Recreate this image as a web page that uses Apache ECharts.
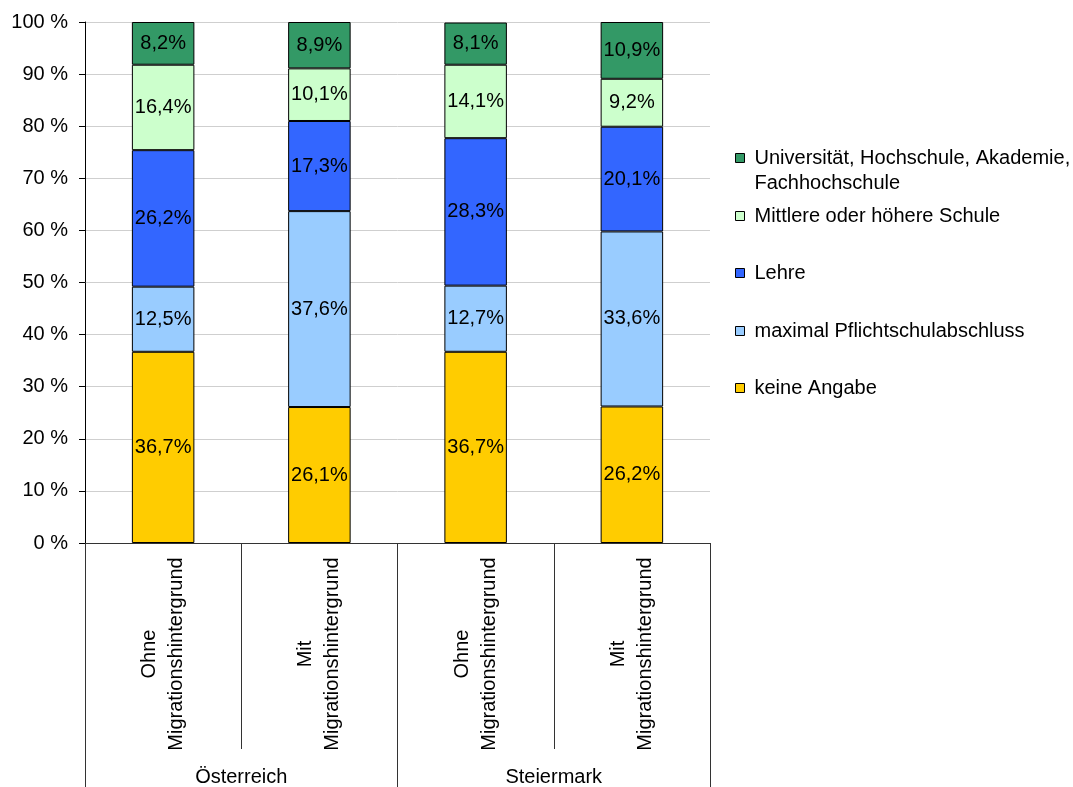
<!DOCTYPE html>
<html>
<head>
<meta charset="utf-8">
<script src="https://cdn.jsdelivr.net/npm/echarts@6/dist/echarts.min.js"></script>
<style>
  html, body { margin: 0; padding: 0; background: #fff; }
  #chart { width: 1073px; height: 787px; }
</style>
</head>
<body>
<div id="chart"></div>
<script>
// Bildungsabschluss nach Migrationshintergrund (Anteile in %)
const categories = [
  'Ohne\nMigrationshintergrund',
  'Mit\nMigrationshintergrund',
  'Ohne\nMigrationshintergrund',
  'Mit\nMigrationshintergrund'
];
const groups = ['Österreich', 'Steiermark'];

const keineAngabe    = [36.7, 26.1, 36.7, 26.2];
const pflichtschule  = [12.5, 37.6, 12.7, 33.6];
const lehre          = [26.2, 17.3, 28.3, 20.1];
const mittlereSchule = [16.4, 10.1, 14.1, 9.2];
const universitaet   = [8.2, 8.9, 8.1, 10.9];

const yTicks = { min: 0, max: 100, interval: 10 };

const FONT = 'Liberation Sans, Arial, sans-serif';
const FS = 20;

const seriesDefs = [
  { name: 'keine Angabe', data: keineAngabe, color: '#FFCC00' },
  { name: 'maximal Pflichtschulabschluss', data: pflichtschule, color: '#99CCFF' },
  { name: 'Lehre', data: lehre, color: '#3366FF' },
  { name: 'Mittlere oder höhere Schule', data: mittlereSchule, color: '#CCFFCC' },
  { name: 'Universität, Hochschule, Akademie, Fachhochschule', data: universitaet, color: '#339966' }
];

const series = seriesDefs.map(s => ({
  name: s.name,
  type: 'bar',
  stack: 'total',
  barWidth: '40%',
  data: s.data,
  itemStyle: { color: s.color, borderColor: '#000', borderWidth: 1 },
  label: {
    show: true,
    position: 'inside',
    color: '#000',
    fontFamily: FONT,
    fontSize: FS,
    formatter: p => p.value.toFixed(1).replace('.', ',') + '%'
  },
  emphasis: { disabled: true }
}));

// legend entries, top to bottom, with the vertical centre of their first text line
const legendRows = [
  { name: seriesDefs[4].name, y: 158, twoLine: true },
  { name: seriesDefs[3].name, y: 216 },
  { name: seriesDefs[2].name, y: 273 },
  { name: seriesDefs[1].name, y: 331 },
  { name: seriesDefs[0].name, y: 388 }
];
const LH = 25;
const textBase = { color: '#000', fontFamily: FONT, fontSize: FS, lineHeight: LH };
const legends = legendRows.map(r => ({
  orient: 'vertical',
  left: 735,
  // the two-line entry gets an empty spacer line above so the marker sits on its first line
  top: r.twoLine ? r.y - LH * 1.5 : r.y - LH / 2,
  padding: 0,
  icon: 'rect',
  itemWidth: 9,
  itemHeight: 9,
  selectedMode: false,
  data: [r.name],
  itemStyle: { borderColor: '#000', borderWidth: 1 },
  formatter: r.twoLine
    ? '{s| }\n{t|Universität, Hochschule, Akademie,}\n{t|Fachhochschule}'
    : '{name}',
  textStyle: Object.assign({}, textBase, {
    padding: [0, 0, 0, 5],
    rich: { s: Object.assign({}, textBase), t: Object.assign({}, textBase) }
  })
}));

const chart = echarts.init(document.getElementById('chart'), null, { renderer: 'canvas' });
chart.setOption({
  animation: false,
  backgroundColor: '#fff',
  grid: { left: 85, right: 363, top: 22, bottom: 243, containLabel: false },
  legend: legends,
  xAxis: [
    {
      type: 'category',
      data: categories,
      position: 'bottom',
      axisLine: { show: true, lineStyle: { color: '#333', width: 1 } },
      axisTick: { show: true, length: 206, lineStyle: { color: '#333', width: 1 } },
      axisLabel: {
        rotate: 90,
        align: 'center',
        verticalAlign: 'middle',
        margin: 111,
        color: '#000',
        fontFamily: FONT,
        fontSize: FS,
        lineHeight: 27
      },
      splitLine: { show: false }
    },
    {
      type: 'category',
      data: groups,
      position: 'bottom',
      axisLine: { show: false },
      axisTick: { show: true, length: 250, lineStyle: { color: '#333', width: 1 } },
      axisLabel: {
        margin: 224,
        color: '#000',
        fontFamily: FONT,
        fontSize: FS
      },
      splitLine: { show: false }
    }
  ],
  yAxis: {
    type: 'value',
    min: yTicks.min,
    max: yTicks.max,
    interval: yTicks.interval,
    axisLine: { show: true, lineStyle: { color: '#000', width: 1 } },
    axisTick: { show: true, length: 6, lineStyle: { color: '#000' } },
    axisLabel: {
      formatter: '{value} %',
      margin: 17,
      color: '#000',
      fontFamily: FONT,
      fontSize: FS
    },
    splitLine: { show: true, lineStyle: { color: '#CFCFCF', width: 1 } }
  },
  series: series
});
</script>
</body>
</html>
